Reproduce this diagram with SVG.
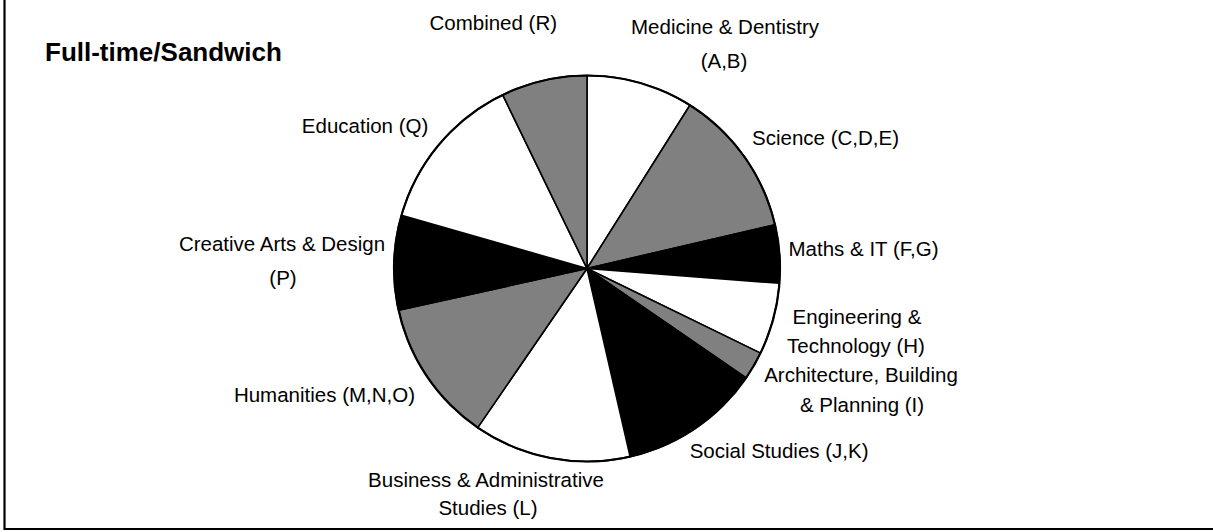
<svg xmlns="http://www.w3.org/2000/svg" width="1213" height="532" viewBox="0 0 1213 532">
<style>
.lbl{font-family:"Liberation Sans",Arial,sans-serif;font-size:20.5px;fill:#000}
.mid{text-anchor:middle}
.end{text-anchor:end}
.ttl{font-family:"Liberation Sans",Arial,sans-serif;font-size:26px;font-weight:bold;fill:#000}
.sl{stroke:#000;stroke-width:1.6;stroke-linejoin:round}
.w{fill:#fff}.g{fill:#808080}.k{fill:#000}
</style>
<rect width="1213" height="532" fill="#fff"/>
<g id="frame" fill="none" stroke="#000" stroke-width="2.2">
<path d="M4.5 0 V529 H1213"/>
</g>
<g id="heading"><text class="ttl" x="45" y="61">Full-time/Sandwich</text></g>
<g id="pie">
<g id="medicine"><path class="sl w" d="M587 268.5 L587 75.5 A193 193 0 0 1 689.9 105.2 Z"/><text class="lbl mid" x="725" y="34">Medicine &amp; Dentistry</text><text class="lbl mid" x="724" y="68.3">(A,B)</text></g>
<g id="science"><path class="sl g" d="M587 268.5 L689.9 105.2 A193 193 0 0 1 775 224.7 Z"/><text class="lbl" x="752" y="145">Science (C,D,E)</text></g>
<g id="maths"><path class="sl k" d="M587 268.5 L775 224.7 A193 193 0 0 1 779.4 283.3 Z"/><text class="lbl" x="788.5" y="256">Maths &amp; IT (F,G)</text></g>
<g id="engineering"><path class="sl w" d="M587 268.5 L779.4 283.3 A193 193 0 0 1 760.5 353.1 Z"/><text class="lbl mid" x="857" y="323.5">Engineering &amp;</text><text class="lbl mid" x="856" y="353">Technology (H)</text></g>
<g id="architecture"><path class="sl g" d="M587 268.5 L760.5 353.1 A193 193 0 0 1 746.1 377.8 Z"/><text class="lbl mid" x="861" y="381.7">Architecture, Building</text><text class="lbl mid" x="862" y="411.7">&amp; Planning (I)</text></g>
<g id="social"><path class="sl k" d="M587 268.5 L746.1 377.8 A193 193 0 0 1 630.1 456.6 Z"/><text class="lbl end" x="868.5" y="458.3">Social Studies (J,K)</text></g>
<g id="business"><path class="sl w" d="M587 268.5 L630.1 456.6 A193 193 0 0 1 477.7 427.6 Z"/><text class="lbl mid" x="486" y="486.7">Business &amp; Administrative</text><text class="lbl mid" x="488" y="515">Studies (L)</text></g>
<g id="humanities"><path class="sl g" d="M587 268.5 L477.7 427.6 A193 193 0 0 1 398.6 310.3 Z"/><text class="lbl end" x="415" y="401.7">Humanities (M,N,O)</text></g>
<g id="creative"><path class="sl k" d="M587 268.5 L398.6 310.3 A193 193 0 0 1 401.5 215.3 Z"/><text class="lbl mid" x="282" y="250.7">Creative Arts &amp; Design</text><text class="lbl mid" x="283" y="285">(P)</text></g>
<g id="education"><path class="sl w" d="M587 268.5 L401.5 215.3 A193 193 0 0 1 502.7 94.9 Z"/><text class="lbl end" x="428.3" y="133.3">Education (Q)</text></g>
<g id="combined"><path class="sl g" d="M587 268.5 L502.7 94.9 A193 193 0 0 1 587 75.5 Z"/><text class="lbl mid" x="493.3" y="30">Combined (R)</text></g>
<circle cx="587" cy="268.5" r="193" fill="none" stroke="#000" stroke-width="2.2"/>
</g>
<g id="connectors"/>
</svg>
